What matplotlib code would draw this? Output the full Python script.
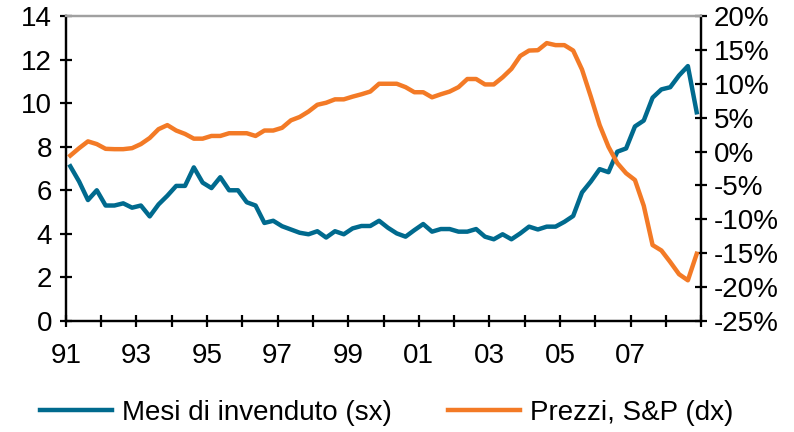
import numpy as np
import matplotlib
matplotlib.use("Agg")
import matplotlib.pyplot as plt

plt.rcParams['font.family'] = ['Liberation Sans', 'DejaVu Sans']

# quarterly data, 1991Q1 - 2008Q4
start_year = 1991
mesi_invenduto = [7.1, 6.4, 5.55, 6.0, 5.3, 5.3, 5.4, 5.2, 5.3, 4.8, 5.35, 5.75,
                  6.2, 6.2, 7.05, 6.35, 6.1, 6.6, 6.0, 6.0, 5.45, 5.3, 4.5, 4.6,
                  4.35, 4.2, 4.05, 3.98, 4.12, 3.83, 4.12, 3.98, 4.25, 4.36, 4.36, 4.6,
                  4.28, 4.02, 3.87, 4.17, 4.45, 4.1, 4.22, 4.22, 4.1, 4.1, 4.22, 3.87,
                  3.75, 3.98, 3.75, 4.02, 4.33, 4.2, 4.33, 4.33, 4.55, 4.82, 5.9, 6.4,
                  6.97, 6.83, 7.77, 7.92, 8.93, 9.2, 10.25, 10.63, 10.73, 11.27, 11.7, 9.58]
prezzi_sp = [-0.6, 0.5, 1.5, 1.1, 0.4, 0.35, 0.35, 0.5, 1.1, 2.0, 3.3, 3.9,
             3.1, 2.6, 1.9, 1.9, 2.3, 2.3, 2.7, 2.7, 2.7, 2.3, 3.1, 3.1,
             3.5, 4.6, 5.1, 5.9, 6.9, 7.2, 7.7, 7.7, 8.1, 8.45, 8.85, 10.0,
             10.0, 10.0, 9.5, 8.75, 8.75, 8.0, 8.45, 8.85, 9.5, 10.7, 10.7, 9.9,
             9.9, 10.95, 12.2, 14.1, 14.9, 14.95, 16.0, 15.7, 15.7, 14.9, 12.1, 8.1,
             3.9, 0.7, -1.7, -3.2, -4.2, -8.0, -13.8, -14.6, -16.3, -18.1, -19.0, -15.1]
year_labels = ['91', '93', '95', '97', '99', '01', '03', '05', '07']

blue = '#006a8e'
orange = '#f37a26'

x = start_year + (np.arange(len(mesi_invenduto)) + 0.5) / 4

fig = plt.figure(figsize=(7.94, 4.32), dpi=100)
ax = fig.add_axes([0.083, 0.257, 0.8, 0.706])
ax2 = ax.twinx()

l1, = ax.plot(x, mesi_invenduto, color=blue, lw=3.2, label='Mesi di invenduto (sx)')
l2, = ax2.plot(x, prezzi_sp, color=orange, lw=3.2, label='Prezzi, S&P (dx)')

ax.set_xlim(1991, 2009)
ax.set_ylim(0, 14)
ax.set_yticks(range(0, 15, 2))
ax2.set_ylim(-25, 20)
ax2.set_yticks(range(-25, 21, 5))
ax2.set_yticklabels([f'{v}%' for v in range(-25, 21, 5)])

years = list(range(1991, 2010))
ax.set_xticks(years)
labs = []
for y in years:
    s = str(y)[2:]
    labs.append(s if s in year_labels else '')
ax.set_xticklabels(labs)

for a in (ax, ax2):
    for s in ('left', 'right', 'bottom'):
        a.spines[s].set_linewidth(1.6)
        a.spines[s].set_color('black')
    a.spines['top'].set_color('#a0a0a0')
    a.spines['top'].set_linewidth(1.6)
    a.tick_params(direction='inout', length=8, width=1.6, labelsize=20)

ax.tick_params(axis='x', pad=12)
ax.tick_params(axis='y', pad=6)
ax2.tick_params(axis='y', pad=5)

fig.legend(handles=[l1, l2], loc='center', bbox_to_anchor=(0.487, 0.044),
           ncol=2, frameon=False, fontsize=20, handlelength=2.6,
           columnspacing=2.0, handletextpad=0.36)

fig.savefig('out.png', dpi=100)
